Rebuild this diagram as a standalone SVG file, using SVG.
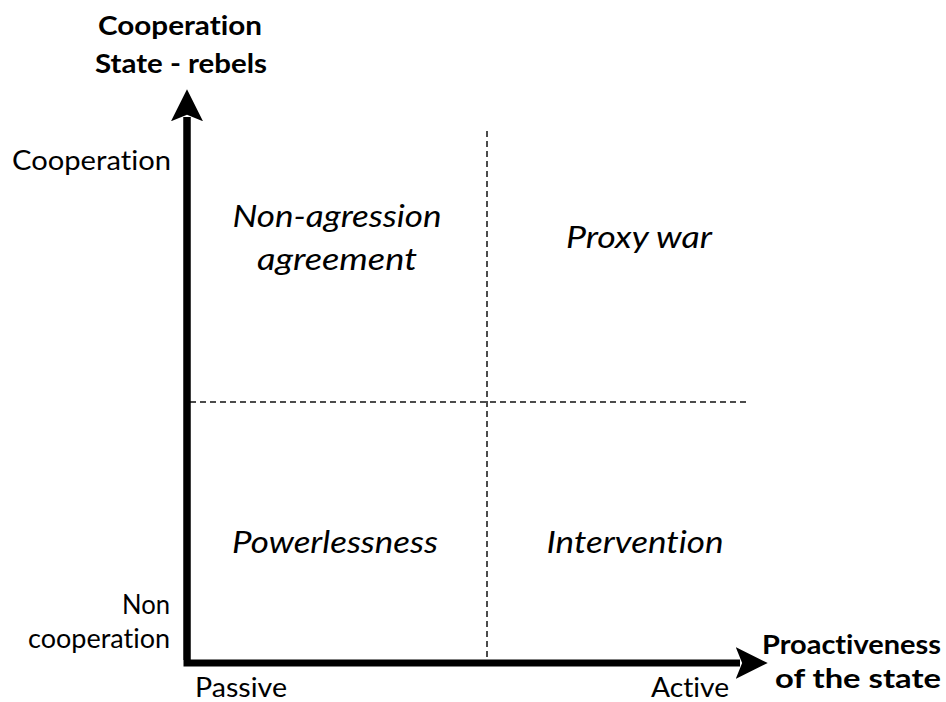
<svg xmlns="http://www.w3.org/2000/svg" width="946" height="702" viewBox="0 0 946 702">
  <style>
    text { font-variant-ligatures: none; }
    .lbl { font-family: "Lato", "Liberation Sans", sans-serif; font-size: 27px; fill: #000; }
    .ttl { font-family: "Lato", "Liberation Sans", sans-serif; font-size: 27px; font-weight: bold; fill: #000; }
    .quad { font-family: "Lato", "Liberation Sans", sans-serif; font-size: 30px; font-style: italic; fill: #000; }
    .axis { stroke: #000; stroke-width: 7; fill: none; }
    .grid { stroke: #111; stroke-width: 1.5; stroke-dasharray: 6 4; fill: none; }
  </style>
  <defs>
    <marker id="head" markerUnits="userSpaceOnUse" markerWidth="32" markerHeight="32" viewBox="0 0 30 30" refX="4" refY="15" orient="auto">
      <path d="M0,0 L30,15 L0,30 L6,15 Z" fill="#000"/>
    </marker>
  </defs>
  <rect width="946" height="702" fill="#fff"/>

  <g id="connectors">
    <line class="grid" x1="487" y1="131" x2="487" y2="660"/>
    <line class="grid" x1="190" y1="402" x2="746" y2="402"/>
    <polyline class="axis" points="187,117 187,663 740,663" stroke-linejoin="miter" marker-end="url(#head)"/>
    <line class="axis" x1="187" y1="660" x2="187" y2="117" marker-end="url(#head)"/>
  </g>

  <g id="y-axis-title">
    <text class="ttl" x="180" y="35" text-anchor="middle" textLength="164" lengthAdjust="spacingAndGlyphs">Cooperation</text>
    <text class="ttl" x="181" y="73" text-anchor="middle" textLength="172" lengthAdjust="spacingAndGlyphs">State - rebels</text>
  </g>
  <g id="x-axis-title">
    <text class="ttl" x="941" y="654" text-anchor="end" textLength="179" lengthAdjust="spacingAndGlyphs">Proactiveness</text>
    <text class="ttl" x="941" y="688" text-anchor="end" textLength="166" lengthAdjust="spacingAndGlyphs">of the state</text>
  </g>
  <g id="y-high">
    <text class="lbl" x="171" y="170" text-anchor="end" textLength="159" lengthAdjust="spacingAndGlyphs">Cooperation</text>
  </g>
  <g id="y-low">
    <text class="lbl" x="170" y="614" text-anchor="end" textLength="48" lengthAdjust="spacingAndGlyphs">Non</text>
    <text class="lbl" x="170" y="648" text-anchor="end" textLength="142" lengthAdjust="spacingAndGlyphs">cooperation</text>
  </g>
  <g id="x-low">
    <text class="lbl" x="195" y="697" textLength="92" lengthAdjust="spacingAndGlyphs">Passive</text>
  </g>
  <g id="x-high">
    <text class="lbl" x="651" y="697" textLength="78" lengthAdjust="spacingAndGlyphs">Active</text>
  </g>

  <g id="non-agression">
    <text class="quad" x="337" y="227" text-anchor="middle" textLength="209" lengthAdjust="spacingAndGlyphs">Non-agression</text>
    <text class="quad" x="337" y="270" text-anchor="middle" textLength="160" lengthAdjust="spacingAndGlyphs">agreement</text>
  </g>
  <g id="proxy-war">
    <text class="quad" x="639" y="248" text-anchor="middle" textLength="146" lengthAdjust="spacingAndGlyphs">Proxy war</text>
  </g>
  <g id="powerlessness">
    <text class="quad" x="335" y="553" text-anchor="middle" textLength="206" lengthAdjust="spacingAndGlyphs">Powerlessness</text>
  </g>
  <g id="intervention">
    <text class="quad" x="635" y="553" text-anchor="middle" textLength="177" lengthAdjust="spacingAndGlyphs">Intervention</text>
  </g>
</svg>
